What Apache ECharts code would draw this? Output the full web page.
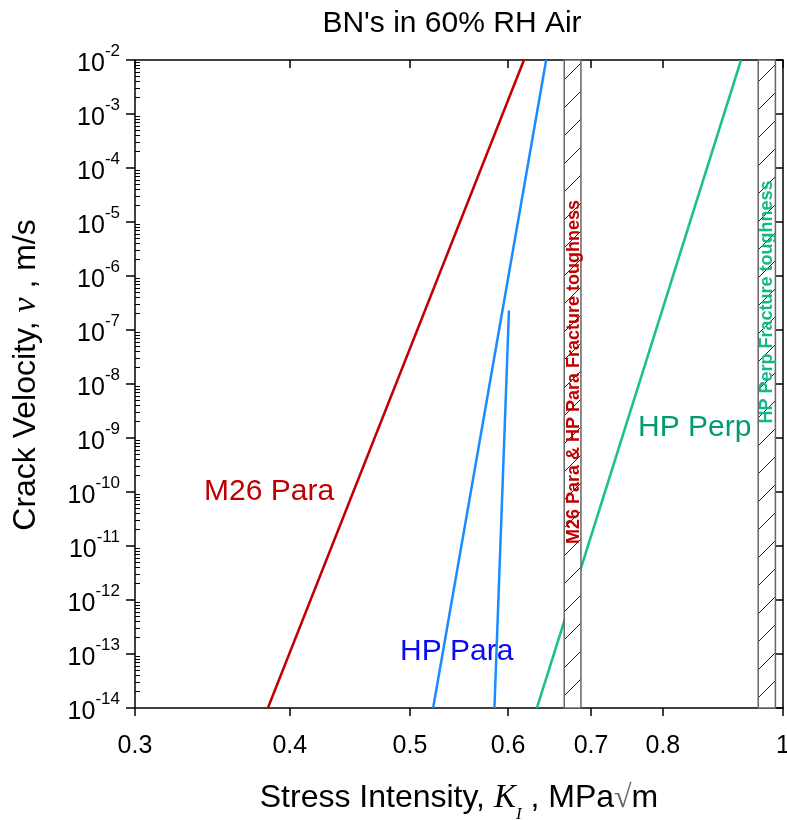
<!DOCTYPE html>
<html>
<head>
<meta charset="utf-8">
<title>BN's in 60% RH Air</title>
<script src="https://cdn.jsdelivr.net/npm/echarts@6/dist/echarts.min.js"></script>
<style>
  html, body { margin: 0; padding: 0; background: #fff; }
  #chart { width: 787px; height: 820px; }
</style>
</head>
<body>
<div id="chart"></div>
<script>
// stress intensity K (MPa√m) and crack velocity v (m/s)
var m26ParaK = [0.384, 0.618];
var m26ParaV = [1e-14, 1e-2];
var hpParaK1 = [0.522, 0.644];
var hpParaV1 = [1e-14, 1e-2];
var hpParaK2 = [0.585, 0.601];
var hpParaV2 = [1e-14, 2.3e-7];
var hpPerpK = [0.633, 0.925];
var hpPerpV = [1e-14, 1e-2];

// fracture toughness bands
var bandLeft = [0.666, 0.955];
var bandRight = [0.687, 0.986];

var xTicks = [0.3, 0.4, 0.5, 0.6, 0.7, 0.8, 1];
var yTicks = [1e-14, 1e-13, 1e-12, 1e-11, 1e-10, 1e-9, 1e-8, 1e-7, 1e-6, 1e-5, 1e-4, 1e-3, 1e-2];

var FONT = 'Liberation Sans, Arial, sans-serif';
var SERIF = 'Liberation Serif, Times New Roman, serif';

// minor ticks 2..9 in each decade
var yMinor = [];
for (var e = -14; e < -2; e++) {
  for (var k = 2; k <= 9; k++) yMinor.push(k * Math.pow(10, e));
}

function pairs(xs, ys) {
  return xs.map(function (x, i) { return [x, ys[i]]; });
}

// hatch pattern "/"
function hatch() {
  var s = 28;
  var c = document.createElement('canvas');
  c.width = s; c.height = s;
  var g = c.getContext('2d');
  g.fillStyle = '#fff';
  g.fillRect(0, 0, s, s);
  g.strokeStyle = '#222';
  g.lineWidth = 1;
  g.beginPath();
  g.moveTo(-2, s + 2); g.lineTo(s + 2, -2);
  g.stroke();
  return c;
}
var pattern = { image: hatch(), repeat: 'repeat' };

function lineSeries(name, xs, ys, color) {
  return {
    name: name,
    type: 'line',
    data: pairs(xs, ys),
    showSymbol: false,
    silent: true,
    z: 3,
    lineStyle: { color: color, width: 2.5 }
  };
}

var chart = echarts.init(document.getElementById('chart'));

chart.setOption({
  animation: false,
  backgroundColor: '#fff',
  grid: { left: 135, right: 4, top: 60, bottom: 112, outerBoundsMode: 'none', containLabel: false },
  xAxis: [
    {
      type: 'log', logBase: 10, min: 0.3, max: 1, position: 'bottom',
      axisLine: { lineStyle: { color: '#000', width: 1.5 } },
      axisTick: { length: 8, customValues: xTicks, lineStyle: { color: '#000', width: 1.5 } },
      axisLabel: {
        customValues: xTicks, margin: 26, fontSize: 25, color: '#000', fontFamily: FONT,
        formatter: function (v) { return String(+(+v).toFixed(2)); }
      },
      minorTick: { show: false },
      splitLine: { show: false },
      name: 'Stress Intensity, {k|K}{i|I} , MPa{r|√}m',
      nameLocation: 'middle',
      nameGap: 74,
      nameTextStyle: {
        fontSize: 32, color: '#000', fontFamily: FONT,
        rich: {
          k: { fontSize: 33, fontStyle: 'italic', fontFamily: SERIF, color: '#000' },
          i: { fontSize: 17, fontStyle: 'italic', fontFamily: SERIF, color: '#000', verticalAlign: 'bottom', padding: [0, 0, -8, 0] },
          r: { fontSize: 32, fontFamily: SERIF, color: '#666' }
        }
      }
    },
    {
      type: 'log', logBase: 10, min: 0.3, max: 1, position: 'top',
      axisLine: { lineStyle: { color: '#000', width: 1.5 } },
      axisTick: { inside: true, length: 8, customValues: xTicks, lineStyle: { color: '#000', width: 1.5 } },
      axisLabel: { show: false },
      splitLine: { show: false }
    }
  ],
  yAxis: [
    {
      type: 'log', logBase: 10, min: 1e-14, max: 1e-2, position: 'left',
      axisLine: { lineStyle: { color: '#000', width: 1.5 } },
      axisTick: { length: 9, customValues: yTicks, lineStyle: { color: '#000', width: 1.5 } },
      axisLabel: {
        customValues: yTicks,
        margin: 15, color: '#000', fontFamily: FONT,
        formatter: function (v) {
          return '{b|10}{s|' + Math.round(Math.log10(v)) + '}';
        },
        rich: {
          b: { fontSize: 25, lineHeight: 34, verticalAlign: 'bottom', fontFamily: FONT, color: '#000' },
          s: { fontSize: 17, lineHeight: 34, verticalAlign: 'top', fontFamily: FONT, color: '#000' }
        }
      },
      splitLine: { show: false },
      name: 'Crack Velocity, {n|ν} , m/s',
      nameLocation: 'middle',
      nameRotate: 90,
      nameGap: 92,
      nameTextStyle: {
        fontSize: 32, color: '#000', fontFamily: FONT,
        padding: [0, 0, 0, 18],
        rich: { n: { fontSize: 34, fontStyle: 'italic', fontFamily: SERIF, color: '#000' } }
      }
    },
    {
      type: 'log', logBase: 10, min: 1e-14, max: 1e-2, position: 'right',
      axisLine: { lineStyle: { color: '#000', width: 1.5 } },
      axisTick: { inside: true, length: 8, customValues: yTicks, lineStyle: { color: '#000', width: 1.5 } },
      axisLabel: { show: false },
      splitLine: { show: false }
    },
    {
      type: 'log', logBase: 10, min: 1e-14, max: 1e-2, position: 'left',
      axisLine: { show: false },
      axisTick: { inside: true, length: 5, customValues: yMinor, lineStyle: { color: '#000', width: 1 } },
      axisLabel: { show: false },
      splitLine: { show: false }
    }
  ],
  series: [
    lineSeries('M26 Para', m26ParaK, m26ParaV, '#C00000'),
    lineSeries('HP Para', hpParaK1, hpParaV1, '#1A8CFF'),
    lineSeries('HP Para 2', hpParaK2, hpParaV2, '#1A8CFF'),
    lineSeries('HP Perp', hpPerpK, hpPerpV, '#1DBF8E'),
    {
      type: 'custom',
      silent: true,
      z: 5,
      encode: { x: [0, 1], y: [2, 3] },
      data: bandLeft.map(function (l, i) { return [l, bandRight[i], 1e-2, 1e-14]; }),
      renderItem: function (params, api) {
        var p0 = api.coord([api.value(0), api.value(2)]);
        var p1 = api.coord([api.value(1), api.value(3)]);
        return {
          type: 'rect',
          shape: { x: p0[0], y: p0[1], width: p1[0] - p0[0], height: p1[1] - p0[1] },
          style: { fill: pattern, stroke: '#666', lineWidth: 1.5 }
        };
      }
    }
  ],
  graphic: [
    { type: 'text', x: 452, y: 24, z: 10,
      style: { text: "BN's in 60% RH Air", font: '30px ' + FONT, fill: '#000', align: 'center', verticalAlign: 'middle' } },
    { type: 'text', x: 204, y: 492, z: 1,
      style: { text: 'M26 Para', font: '30px ' + FONT, fill: '#C00000', align: 'left', verticalAlign: 'middle' } },
    { type: 'text', x: 400, y: 652, z: 1,
      style: { text: 'HP Para', font: '30px ' + FONT, fill: '#0A0AF5', align: 'left', verticalAlign: 'middle' } },
    { type: 'text', x: 638, y: 428, z: 1,
      style: { text: 'HP Perp', font: '30px ' + FONT, fill: '#009B72', align: 'left', verticalAlign: 'middle' } },
    { type: 'text', x: 574, y: 372, rotation: Math.PI / 2, z: 100,
      style: { text: 'M26 Para & HP Para Fracture toughness', font: 'bold 18px ' + FONT, fill: '#C00000', align: 'center', verticalAlign: 'middle' } },
    { type: 'text', x: 767, y: 302, rotation: Math.PI / 2, z: 100,
      style: { text: 'HP Perp Fracture toughness', font: 'bold 18px ' + FONT, fill: '#12B88A', align: 'center', verticalAlign: 'middle' } }
  ]
});
</script>
</body>
</html>
